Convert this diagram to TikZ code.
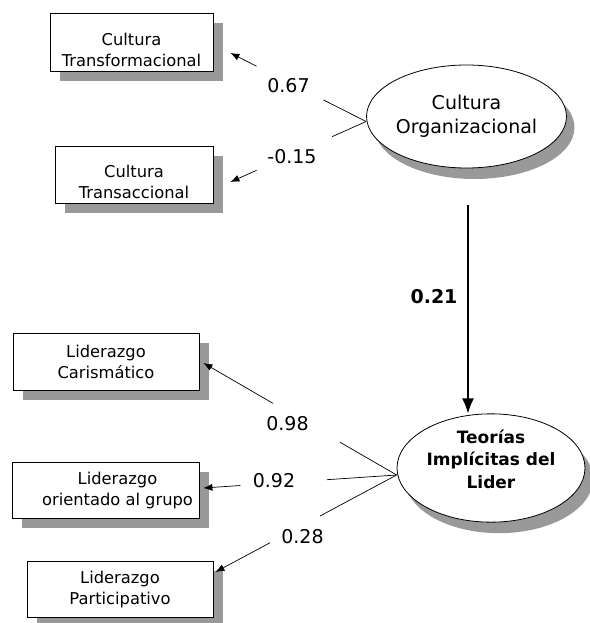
\documentclass[tikz,border=0pt]{standalone}
\usepackage{fontspec}
\setmainfont{DejaVu Sans}
\usepackage{tikz}
\usetikzlibrary{calc}
\usetikzlibrary{positioning}
\usetikzlibrary{shapes}
\usetikzlibrary{shadows}
\usetikzlibrary{arrows.meta}

\begin{document}
\begin{tikzpicture}[x=1pt, y=-1pt,
		var/.style={rectangle, draw, line width=0.8pt, fill=white, inner sep=0pt, align=center,
			font=\fontsize{16.3}{21}\selectfont,
			drop shadow={shadow xshift=10pt, shadow yshift=-10pt, fill=black!40, opacity=1}},
		lat/.style={ellipse, draw, line width=0.8pt, fill=white, inner sep=0pt, align=center,
			drop shadow={shadow xshift=8pt, shadow yshift=-11pt, fill=black!40, opacity=1}},
		load/.style={line width=0.7pt},
		tip/.style={-{Latex[length=9pt, width=7pt]}},
		coef/.style={font=\fontsize{19}{23}\selectfont, inner sep=0pt}]
				\useasboundingbox (0,0) rectangle (589,623);
				
				\node[lat, minimum width=193pt, minimum height=103pt, font=\fontsize{19}{24}\selectfont] (CO) at (466.5,116.5) {Cultura\\Organizacional};
				\node[lat, minimum width=188pt, minimum height=100pt, font=\fontsize{17}{22.5}\selectfont\bfseries] (TI) at (491,468) {Teorías\\Implícitas del\\Lider\rule[-18pt]{0pt}{18pt}};
				
				\node[var, minimum width=163pt, minimum height=58pt] (CT) at (131.5,42) {\rule{0pt}{28pt}Cultura\\Transformacional};
				\node[var, minimum width=158pt, minimum height=57pt] (CS) at (134,174.5) {\rule{0pt}{27pt}Cultura\\Transaccional};
				\node[var, minimum width=186pt, minimum height=57pt] (LC) at (106,361.5) {Liderazgo\\Carismático};
				\node[var, minimum width=187pt, minimum height=56pt] (LG) at (105.5,490) {\hspace*{24pt}Liderazgo\\\hspace*{24pt}orientado al grupo};
				\node[var, minimum width=186pt, minimum height=56pt] (LP) at (120,589) {Liderazgo\\Participativo};
				
				% ends of the paths
				\coordinate (CO in) at ([yshift=-5pt]CO.west);
				\coordinate (TI in) at ([yshift=-7pt]TI.west);
				\coordinate (CO out) at ([xshift=1.5pt, yshift=-37pt]CO.south);
				\coordinate (CT end) at ([xshift=17pt, yshift=-11pt]CT.east);
				\coordinate (CS end) at ([xshift=17pt, yshift=-7.5pt]CS.east);
				\coordinate (LC end) at ([xshift=4pt, yshift=-1.5pt]LC.east);
				\coordinate (LG end) at ([xshift=4pt, yshift=2pt]LG.east);
				\coordinate (LP end) at ([xshift=2pt, yshift=17pt]LP.east);
				
				\draw[load] (CO in) -- ($(CO in)!0.314!(CT end)$);
				\draw[load, tip] ($(CO in)!0.807!(CT end)$) -- (CT end);
				\draw[load] (CO in) -- ($(CO in)!0.25!(CS end)$);
				\draw[load, tip] ($(CO in)!0.807!(CS end)$) -- (CS end);
				
				\draw[load] (TI in) -- ($(TI in)!0.294!(LC end)$);
				\draw[load, tip] ($(TI in)!0.639!(LC end)$) -- (LC end);
				\draw[load] (TI in) -- ($(TI in)!0.361!(LG end)$);
				\draw[load, tip] ($(TI in)!0.809!(LG end)$) -- (LG end);
				\draw[load] (TI in) -- ($(TI in)!0.423!(LP end)$);
				\draw[load, tip] ($(TI in)!0.698!(LP end)$) -- (LP end);
				
				\draw[line width=1.6pt, -{Latex[length=15pt, width=12pt]}] (CO out) -- (CO out |- TI.north);
				
				\node[coef] (b67) at (288.5,86) {0.67};
				\node[coef] (b15) at (292,156.5) {-0.15};
				\node[coef] (b98) at (287.5,424) {0.98};
				\node[coef] (b92) at (274,480.5) {0.92};
				\node[coef] (b28) at (302.5,537) {0.28};
				\node[coef, font=\fontsize{19}{23}\selectfont\bfseries] (b21) at (434,297) {0.21};
			\end{tikzpicture}
\end{document}
